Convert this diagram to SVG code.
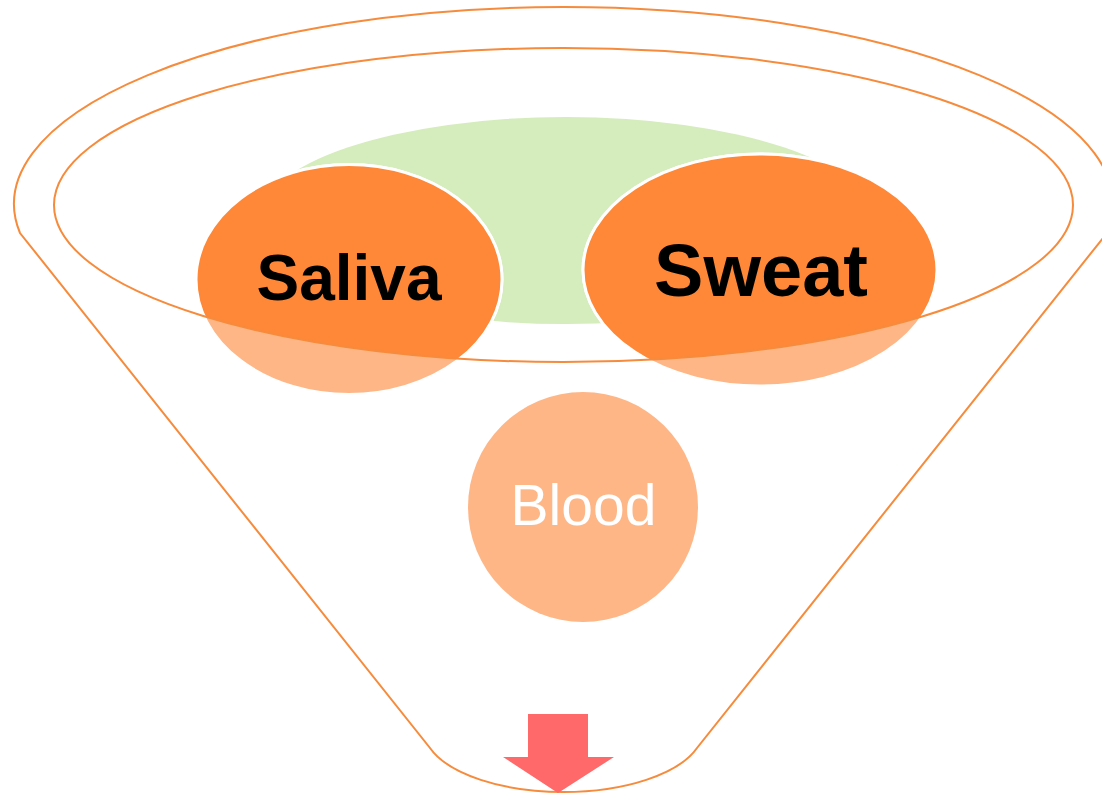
<svg xmlns="http://www.w3.org/2000/svg" width="1102" height="795" viewBox="0 0 1102 795">
<style>
.outline{fill:none;stroke:#F68B3C;stroke-width:2}
.dark{fill:#FE8838}
.light{fill:#FEB687}
.ring{stroke:#FFFFFF;stroke-width:3}
.bold{font-family:"Liberation Sans",Arial,sans-serif;font-weight:bold;fill:#000000;text-anchor:middle}
.reg{font-family:"Liberation Sans",Arial,sans-serif;fill:#FFFFFF;text-anchor:middle}
</style>
<defs>
<clipPath id="inner"><ellipse cx="563.5" cy="205" rx="509.5" ry="157"/></clipPath>
</defs>
<rect width="1102" height="795" fill="#FFFFFF"/>
<g id="funnel">
<path class="outline" d="M20,233 A549.5,197 0 1 1 1107,233 L697,748 A140,63 0 0 1 430,748 Z"/>
</g>
<g id="green-back">
<ellipse cx="566" cy="220.5" rx="308" ry="103.5" fill="#D5ECBD"/>
</g>
<g id="saliva">
<ellipse class="light ring" cx="349" cy="279.5" rx="153" ry="115"/>
<ellipse class="dark ring" cx="349" cy="279.5" rx="153" ry="115" clip-path="url(#inner)"/>
<text class="bold" x="349" y="300" font-size="64">Saliva</text>
</g>
<g id="sweat">
<ellipse class="light ring" cx="760" cy="270" rx="177" ry="116"/>
<ellipse class="dark ring" cx="760" cy="270" rx="177" ry="116" clip-path="url(#inner)"/>
<text class="bold" x="761" y="296" font-size="74">Sweat</text>
</g>
<g id="inner-rim">
<ellipse class="outline" cx="563.5" cy="205" rx="509.5" ry="157"/>
</g>
<g id="blood">
<circle class="light" cx="583" cy="507" r="115"/>
<text class="reg" x="583.5" y="525" font-size="57">Blood</text>
</g>
<g id="connectors">
<path id="arrow" d="M528,714 L588,714 L588,757 L614,757 L558,793 L503,757 L528,757 Z" fill="#FF6969"/>
</g>
</svg>
